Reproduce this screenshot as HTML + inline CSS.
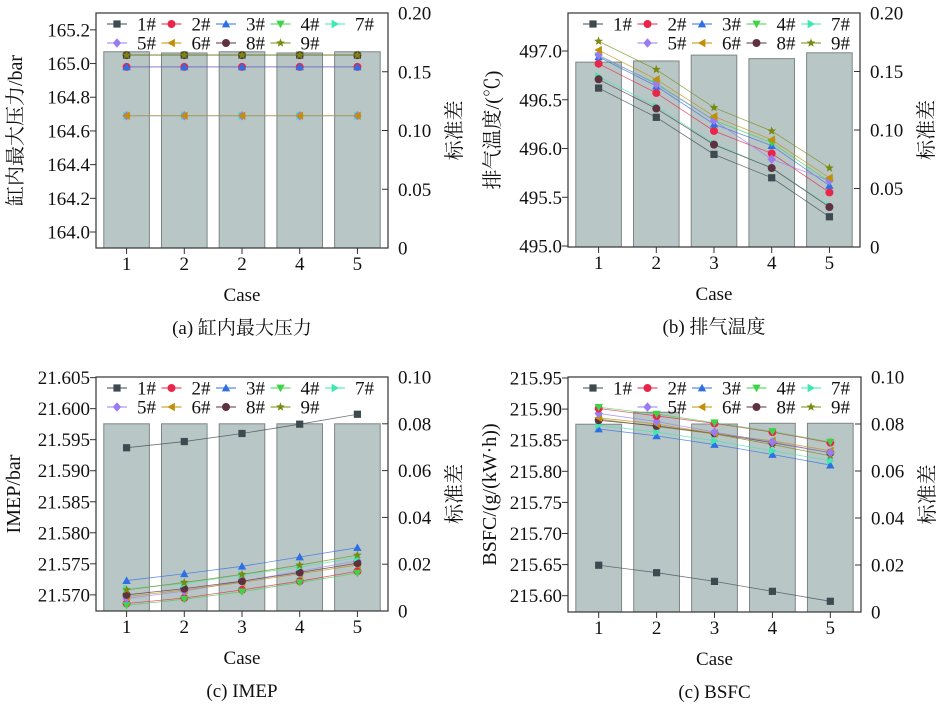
<!DOCTYPE html>
<html><head><meta charset="utf-8">
<style>
html,body{margin:0;padding:0;background:#fff;font-family:"Liberation Serif","Noto Serif CJK SC",serif;}
svg{display:block;}
</style></head>
<body>
<svg id="chart" width="945" height="706" viewBox="0 0 945 706" xmlns="http://www.w3.org/2000/svg" font-family="'Liberation Serif', 'Noto Serif CJK SC', serif"></svg>
<script>
// ---- shared data ----
const caseLabelsA = ["1","2","2","4","5"];
const caseLabels = ["1","2","3","4","5"];
const seriesNames = ["1#","2#","3#","4#","7#","5#","6#","8#","9#"];
// Panel A (max cylinder pressure)
const barsA = [0.167,0.166,0.167,0.166,0.167];
const a1 = [165.05,165.05,165.05,165.05,165.05];
const a2 = [164.98,164.98,164.98,164.98,164.98];
const a3 = [164.98,164.98,164.98,164.98,164.98];
const a4 = [165.05,165.05,165.05,165.05,165.05];
const a7 = [164.69,164.69,164.69,164.69,164.69];
const a5 = [164.69,164.69,164.69,164.69,164.69];
const a6 = [164.69,164.69,164.69,164.69,164.69];
const a8 = [165.05,165.05,165.05,165.05,165.05];
const a9 = [165.05,165.05,165.05,165.05,165.05];
const ticksA = [164.0,164.2,164.4,164.6,164.8,165.0,165.2];
// Panel B (exhaust temperature)
const barsB = [0.158,0.159,0.164,0.161,0.166];
const b1 = [496.62,496.32,495.94,495.70,495.30];
const b2 = [496.87,496.57,496.18,495.95,495.55];
const b3 = [496.94,496.64,496.25,496.03,495.62];
const b4 = [496.95,496.67,496.29,496.06,495.66];
const b7 = [496.74,496.43,496.05,495.80,495.41];
const b5 = [496.96,496.66,496.29,495.89,495.67];
const b6 = [497.01,496.71,496.33,496.09,495.70];
const b8 = [496.71,496.41,496.04,495.80,495.40];
const b9 = [497.10,496.81,496.42,496.18,495.80];
const ticksB = [495.0,495.5,496.0,496.5,497.0];
// Panel C (IMEP)
const barsC = [0.080,0.080,0.080,0.080,0.080];
const c1 = [21.5937,21.5947,21.5960,21.5975,21.5991];
const c2 = [21.5686,21.5695,21.5708,21.5722,21.5738];
const c3 = [21.5723,21.5734,21.5746,21.5761,21.5776];
const c4 = [21.5683,21.5693,21.5705,21.5720,21.5735];
const c7 = [21.5710,21.5718,21.5732,21.5745,21.5760];
const c5 = [21.5694,21.5706,21.5722,21.5738,21.5755];
const c6 = [21.5697,21.5708,21.5720,21.5734,21.5748];
const c8 = [21.5700,21.5710,21.5722,21.5736,21.5751];
const c9 = [21.5708,21.5720,21.5733,21.5748,21.5764];
const ticksC = [21.570,21.575,21.580,21.585,21.590,21.595,21.600,21.605];
// Panel D (BSFC)
const barsD = [0.0799,0.085,0.080,0.0803,0.0803];
const d1 = [215.649,215.637,215.623,215.607,215.591];
const d2 = [215.901,215.889,215.877,215.863,215.846];
const d3 = [215.868,215.857,215.843,215.827,215.810];
const d4 = [215.903,215.892,215.878,215.864,215.847];
const d7 = [215.874,215.863,215.849,215.833,215.817];
const d5 = [215.893,215.880,215.863,215.847,215.830];
const d6 = [215.886,215.876,215.861,215.849,215.833];
const d8 = [215.882,215.873,215.861,215.846,215.830];
const d9 = [215.884,215.872,215.860,215.843,215.825];
const ticksD = [215.60,215.65,215.70,215.75,215.80,215.85,215.90,215.95];
const rTicksAB = [0,0.05,0.10,0.15,0.20];
const rLabelsAB = ["0","0.05","0.10","0.15","0.20"];
const rTicksCD = [0,0.02,0.04,0.06,0.08,0.10];
const rLabelsCD = ["0","0.02","0.04","0.06","0.08","0.10"];

const FONT = "'Liberation Serif', 'Noto Serif CJK SC', serif";
const styles = {
 "1#":{c:"#3d4a4f",m:"square"},"2#":{c:"#e8264a",m:"circle"},"3#":{c:"#2f6fe6",m:"up"},
 "4#":{c:"#3fd34a",m:"down"},"7#":{c:"#3ee8b0",m:"right"},"5#":{c:"#9a7cf0",m:"diamond"},
 "6#":{c:"#c0900a",m:"left"},"8#":{c:"#5e3040",m:"circle"},"9#":{c:"#7a8a10",m:"star"}
};
const NS="http://www.w3.org/2000/svg";
const svg=document.getElementById("chart");
function el(tag,attrs,parent,text){const e=document.createElementNS(NS,tag);for(const k in attrs)e.setAttribute(k,attrs[k]);if(tag==="text"){e.setAttribute("font-family",FONT);}if(text!==undefined)e.textContent=text;(parent||svg).appendChild(e);return e;}
function marker(g,x,y,kind,c,name){
 let e;const s=4.2;
 if(kind==="square")e=el("rect",{x:x-3.6,y:y-3.6,width:7.2,height:7.2,fill:c},g);
 else if(kind==="circle")e=el("circle",{cx:x,cy:y,r:4,fill:c},g);
 else{let p;
  if(kind==="up")p=[[x,y-s],[x+s,y+s*0.8],[x-s,y+s*0.8]];
  else if(kind==="down")p=[[x,y+s],[x+s,y-s*0.8],[x-s,y-s*0.8]];
  else if(kind==="right")p=[[x+s,y],[x-s*0.8,y-s],[x-s*0.8,y+s]];
  else if(kind==="left")p=[[x-s,y],[x+s*0.8,y-s],[x+s*0.8,y+s]];
  else if(kind==="diamond")p=[[x,y-s-0.5],[x+s,y],[x,y+s+0.5],[x-s,y]];
  else {p=[];for(let i=0;i<10;i++){const r=i%2?2:4.6;const a=-Math.PI/2+i*Math.PI/5;p.push([x+r*Math.cos(a),y+r*Math.sin(a)]);}}
  e=el("polygon",{points:p.map(q=>q.join(",")).join(" "),fill:c},g);}
 
 
}
function panel(cfg){
 const g=el("g",{},svg);
 
 
 const L=cfg.L,R=cfg.R,T=cfg.T,B=cfg.B;
 const X=i=>L+(R-L)*(i+0.53)/5.06;
 const Y=v=>B-(v-cfg.y0)/(cfg.y1-cfg.y0)*(B-T);
 const YR=v=>B-(v)/(cfg.r1)*(B-T);
 const bw=(R-L)/5.06*0.79;
 cfg.bars.forEach((v,i)=>{const r=el("rect",{x:X(i)-bw/2,y:YR(v),width:bw,height:B-YR(v),fill:"#b8c6c6",stroke:"#7d8585","stroke-width":1},g);
  
  });
 cfg.order.forEach(k=>{const vals=cfg.series[k];const st=styles[k];
  const pl=el("polyline",{points:vals.map((v,i)=>X(i)+","+Y(v)).join(" "),fill:"none",stroke:st.c,"stroke-width":0.8,"stroke-opacity":0.75},g);
  
  
  vals.forEach((v,i)=>marker(g,X(i),Y(v),st.m,st.c,'point-'+k.replace('#','')+'-'+(i+1)));});
 el("rect",{x:L,y:T,width:R-L,height:B-T,fill:"none",stroke:"#333","stroke-width":1.2},g);
 cfg.lt.forEach((v,i)=>{const y=Y(v);el("line",{x1:L-6,x2:L,y1:y,y2:y,stroke:"#333","stroke-width":1},g);
  const t=el("text",{x:L-6,y:y+6.5,"text-anchor":"end","font-size":19,fill:"#111"},g,cfg.ltl[i]);
  });
 cfg.rt.forEach((v,i)=>{const y=YR(v);el("line",{x1:R-6,x2:R,y1:y,y2:y,stroke:"#333","stroke-width":1},g);
  const t=el("text",{x:R+10,y:y+6.5,"font-size":19,fill:"#111"},g,cfg.rtl[i]);
  });
 cfg.cats.forEach((c,i)=>{const x=X(i);el("line",{x1:x,x2:x,y1:B,y2:B+6,stroke:"#333","stroke-width":1},g);
  const t=el("text",{x:x,y:B+22,"text-anchor":"middle","font-size":19,fill:"#111"},g,c);
  });
 let t=el("text",{x:(L+R)/2,y:B+53,"text-anchor":"middle","font-size":19,fill:"#111"},g,"Case");
 
 t=el("text",{x:(L+R)/2,y:B+86,"text-anchor":"middle","font-size":19,fill:"#111"},g,cfg.caption);
 
 t=el("text",{x:0,y:0,"text-anchor":"middle","font-size":20,fill:"#111",transform:`translate(${cfg.ytx},${(T+B)/2}) rotate(-90)`},g,cfg.ytitle);
 
 t=el("text",{x:0,y:0,"text-anchor":"middle","font-size":20,fill:"#111",transform:`translate(${R+73},${(T+B)/2}) rotate(-90)`},g,"标准差");
 
 const row1=["1#","2#","3#","4#","7#"];const row2=["5#","6#","8#","9#"];
 const col=j=>cfg.legX+j*54.5;
 const drawEntry=(k,j,y)=>{const st=styles[k];const lg=el("g",{},g);
  
  el("line",{x1:col(j)-30,x2:col(j)-10,y1:y,y2:y,stroke:st.c,"stroke-width":0.9},lg);
  marker(lg,col(j)-20,y,st.m,st.c,'legend-marker');
  el("text",{x:col(j),y:y+6.5,"font-size":19,fill:"#111"},lg,k);};
 row1.forEach((k,j)=>drawEntry(k,j,T+11));
 row2.forEach((k,j)=>drawEntry(k,j+cfg.row2off,T+30));
}
panel({id:"panel-a-max-pressure",L:96,R:388,T:13,B:248,y0:163.905,y1:165.300,r1:0.2,bars:barsA,
 series:{"1#":a1,"2#":a2,"3#":a3,"4#":a4,"7#":a7,"5#":a5,"6#":a6,"8#":a8,"9#":a9},
 order:["1#","4#","2#","3#","7#","5#","6#","8#","9#"],
 lt:ticksA,ltl:ticksA.map(v=>v.toFixed(1)),rt:rTicksAB,rtl:rLabelsAB,cats:caseLabelsA,
 caption:"(a) 缸内最大压力",ytitle:"缸内最大压力/bar",ytx:22,legX:137,row2off:0});
panel({id:"panel-b-exhaust-temp",L:568,R:860,T:13,B:247,y0:494.99,y1:497.39,r1:0.2,bars:barsB,
 series:{"1#":b1,"2#":b2,"3#":b3,"4#":b4,"7#":b7,"5#":b5,"6#":b6,"8#":b8,"9#":b9},
 order:["1#","7#","8#","2#","3#","4#","5#","6#","9#"],
 lt:ticksB,ltl:ticksB.map(v=>v.toFixed(1)),rt:rTicksAB,rtl:rLabelsAB,cats:caseLabels,
 caption:"(b) 排气温度",ytitle:"排气温度/(℃)",ytx:499,legX:613,row2off:1});
panel({id:"panel-c-imep",L:96,R:388,T:377,B:611,y0:21.5674,y1:21.6051,r1:0.1,bars:barsC,
 series:{"1#":c1,"2#":c2,"3#":c3,"4#":c4,"7#":c7,"5#":c5,"6#":c6,"8#":c8,"9#":c9},
 order:["1#","2#","4#","5#","6#","8#","7#","9#","3#"],
 lt:ticksC,ltl:ticksC.map(v=>v.toFixed(3)),rt:rTicksCD,rtl:rLabelsCD,cats:caseLabels,
 caption:"(c) IMEP",ytitle:"IMEP/bar",ytx:20,legX:137,row2off:0});
panel({id:"panel-d-bsfc",L:568,R:861,T:377,B:612,y0:215.5738,y1:215.9516,r1:0.1,bars:barsD,
 series:{"1#":d1,"2#":d2,"3#":d3,"4#":d4,"7#":d7,"5#":d5,"6#":d6,"8#":d8,"9#":d9},
 order:["1#","3#","7#","9#","8#","6#","5#","2#","4#"],
 lt:ticksD,ltl:ticksD.map(v=>v.toFixed(2)),rt:rTicksCD,rtl:rLabelsCD,cats:caseLabels,
 caption:"(c) BSFC",ytitle:"BSFC/(g/(kW·h))",ytx:496,legX:613,row2off:1});
</script>
</body></html>
